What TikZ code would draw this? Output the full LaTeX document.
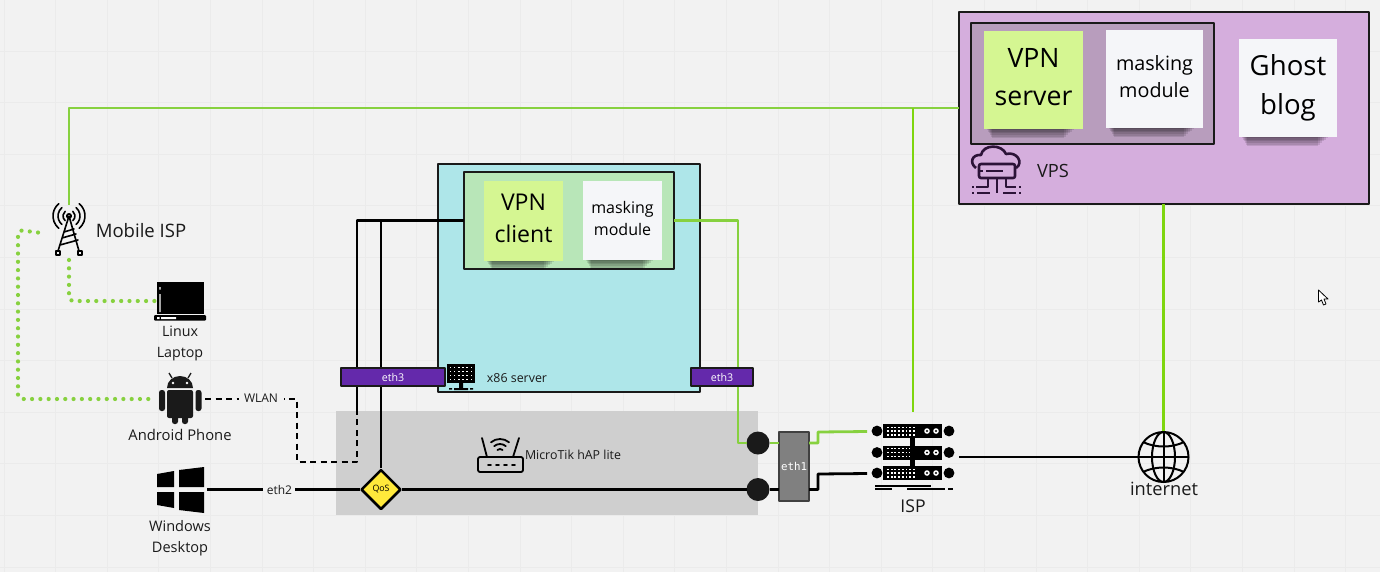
\documentclass[tikz,border=0pt]{standalone}
\usepackage{fontspec}
\setmainfont{Open Sans}
\newfontfamily\ethfont{DejaVu Sans Mono}
\usetikzlibrary{shapes.geometric}
\definecolor{bgcol}{HTML}{F2F2F2}
\definecolor{gridcol}{HTML}{EBEBEB}
\definecolor{vpscol}{HTML}{D5AEDD}
\definecolor{vpsin}{HTML}{B89DBD}
\definecolor{servcol}{HTML}{AEE6E9}
\definecolor{servin}{HTML}{B8E6B8}
\definecolor{stickgreen}{HTML}{D5F692}
\definecolor{stickwhite}{HTML}{F5F6F9}
\definecolor{ethcol}{HTML}{6429AB}
\definecolor{hapcol}{HTML}{CFCFCF}
\definecolor{linkgreen}{HTML}{87D13F}
\definecolor{linkbright}{HTML}{7FD60F}
\definecolor{qoscol}{HTML}{FFE93B}
\definecolor{inkcol}{HTML}{1A1A1A}
\definecolor{vpsink}{HTML}{2C1338}
\def\u{0.75pt}
\newcommand{\fsz}[2]{\fontsize{#1}{#2}\selectfont}
\newcommand{\stickshadow}[3]{\foreach \i in {1,...,6} \fill[black,opacity=.11] (#1+\i,#3) rectangle (#2-\i*2,#3+1.6*\i-0.5);}
\tikzset{
  plate/.style={draw=inkcol,line width=1.5*\u,inner sep=0pt,outer sep=0pt},
  stick/.style={inner sep=0pt,outer sep=0pt},
  eth/.style={plate,fill=ethcol,text=white,font=\fsz{8}{10},minimum height=18*\u},
  lbl/.style={inner sep=0pt,align=center,text=inkcol},
  icon/.style={inner sep=0pt,outer sep=0pt},
  wire/.style={line width=2.8*\u,black},
  wlan/.style={line width=1.9*\u,black,dash pattern=on 6*\u off 4.5*\u},
  greenwire/.style={line width=2.8*\u,linkgreen},
  brightwire/.style={line width=2.8*\u,linkbright},
  dotwire/.style={line width=4.2*\u,linkgreen,line cap=round,dash pattern=on 0pt off 8.3*\u,rounded corners=4*\u},
  port/.style={circle,fill=inkcol,inner sep=0pt,outer sep=0pt,minimum size=23*\u}
}
\begin{document}
\begin{tikzpicture}[x=0.75pt,y=-0.75pt,line join=round]
\useasboundingbox (0,0) rectangle (1380,572);
\fill[bgcol] (0,0) rectangle (1380,572);
\foreach \x in {0,...,26} \draw[gridcol,line width=\u] (4+51.6*\x,0)--(4+51.6*\x,572);
\foreach \y in {0,...,10} \draw[gridcol,line width=\u] (0,51+51.6*\y)--(1380,51+51.6*\y);
% boxes
\node[icon,fill=hapcol,minimum width=422*\u,minimum height=104*\u] (hap) at (547,462.5) {};
\node[plate,fill=servcol,minimum width=262*\u,minimum height=228*\u] (x86) at (569,278) {};
\node[plate,fill=servin,minimum width=210*\u,minimum height=97*\u] (x86in) at (569,220.5) {};
\node[plate,fill=vpscol,minimum width=410*\u,minimum height=192*\u] (vps) at (1164,108) {};
\node[plate,fill=vpsin,minimum width=243*\u,minimum height=121*\u] (vpsin) at (1092.5,83.5) {};
% sticky notes
\stickshadow{486}{556}{261}
\stickshadow{585}{655}{260}
\stickshadow{986}{1076}{129}
\stickshadow{1108}{1196}{128}
\stickshadow{1241}{1330}{137}
\node[stick,fill=stickgreen,minimum width=79*\u,minimum height=80*\u] (vpnclient) at (523.5,221) {};
\node[stick,fill=stickwhite,minimum width=79*\u,minimum height=79*\u] (maskclient) at (622.5,220.5) {};
\node[stick,fill=stickgreen,minimum width=99*\u,minimum height=98*\u] (vpnserver) at (1033.5,80) {};
\node[stick,fill=stickwhite,minimum width=97*\u,minimum height=98*\u] (maskserver) at (1154.5,79) {};
\node[stick,fill=stickwhite,minimum width=98*\u,minimum height=98*\u] (ghost) at (1288,88) {};
\node[lbl,text=black,font=\fsz{17.3}{23.6}] (vpnclientlbl) at (523.5,218.5) {VPN\\client};
\node[lbl,text=black,font=\fsz{12}{15.8}] (maskclientlbl) at (622.5,218.5) {masking\\module};
\node[lbl,text=black,font=\fsz{20}{28}] (vpnserverlbl) at (1033.5,77) {VPN\\server};
\node[lbl,text=black,font=\fsz{14.8}{20.2}] (maskserverlbl) at (1154.5,77) {masking\\module};
\node[lbl,text=black,font=\fsz{20.7}{29}] (ghostlbl) at (1288,87.5) {Ghost\\blog};
% icon anchors
\node[icon,minimum width=62*\u,minimum height=55*\u] (tower) at (69,232.5) {};
\node[icon,minimum width=50*\u,minimum height=40*\u] (laptop) at (180,301) {};
\node[icon,minimum width=50*\u,minimum height=50*\u] (android) at (180,399) {};
\node[icon,minimum width=54*\u,minimum height=46*\u] (windows) at (180,489.5) {};
\node[icon,minimum width=92*\u,minimum height=82*\u] (rack) at (913,453) {};
\node[icon,circle,minimum size=51*\u] (globe) at (1163.5,457) {};
\coordinate (racktop) at (913,431.5);
\coordinate (rackbot) at (913,473.5);
\coordinate (wlanturn) at (297,399);
\coordinate (wlandown) at (297,462);
\coordinate (wlanin) at (357,462);
\coordinate (wlanup) at (357,410);
\coordinate (mobilebend) at (18,230);
% links
\node[port] (porta) at (758,443) {};
\node[port] (portb) at (758,489.5) {};
\node[plate,fill=black!50,draw=black!75,text=white,font=\ethfont\fsz{8.1}{10},minimum width=30*\u,minimum height=69*\u] (eth1) at (794,466.5) {eth1};
\draw[greenwire] (vps.west)--(vps.west -| tower.north)--(tower.north);
\draw[brightwire] (vps.west -| rack.north)--(rack.north);
\draw[brightwire] (vps.south -| globe.north)--(globe.north);
\draw[dotwire] (tower.south)--(tower.south |- laptop.west)--(laptop.west);
\draw[dotwire] (tower.west)--(mobilebend)--(mobilebend |- android.west)--(android.west);
\draw[wlan] (android.east)--(wlanturn)--(wlandown)--(wlanin)--(wlanup);
\draw[wire] (wlanup)--(x86in.west -| wlanup)--(x86in.west);
\draw[greenwire] (x86in.east)--(738,220.5)--(738,443)--(porta);
\draw[greenwire] (porta)--(eth1.west |- porta);
\draw[greenwire] (eth1.east |- porta)--++(9,0)--(818,432)--(rack.west |- racktop);
\draw[wire] (eth1.east |- portb)--++(9,0)--(818,474)--(rack.west |- rackbot);
\draw[wire] (portb)--(eth1.west |- portb);
\draw[wire] (globe.west)--(globe.west -| rack.east);
\node[diamond,aspect=1,draw=black,line width=2.5*\u,fill=qoscol,inner sep=0pt,minimum size=40*\u,font=\fsz{6.6}{8}] (qos) at (381,489.5) {QoS};
\draw[wire] (qos.north)--(x86in.west -| qos.north);
\draw[wire] (qos.east)--(portb);
\draw[wire] (windows.east)--(qos.west) node[pos=.474,fill=bgcol,lbl,font=\fsz{9}{11},minimum width=32*\u,minimum height=12*\u] (eth2) {eth2};
\node[lbl,fill=bgcol,font=\fsz{9}{11},minimum width=45*\u,minimum height=13*\u] (wlanlbl) at (261,398.5) {WLAN};
\node[eth,minimum width=104*\u] (ethl) at (393,377) {eth3};
\node[eth,minimum width=62*\u] (ethr) at (722,377) {eth3};
% texts
\node[lbl,font=\fsz{13.9}{16}] (mobilelbl) at (141,231) {Mobile ISP};
\node[lbl,font=\fsz{10.7}{15.75}] (laptoplbl) at (180,343) {Linux\\Laptop};
\node[lbl,font=\fsz{11.1}{14}] (androidlbl) at (180,435) {Android Phone};
\node[lbl,font=\fsz{10.9}{15.75}] (windowslbl) at (180,538) {Windows\\Desktop};
\node[lbl,font=\fsz{9.3}{11}] (x86lbl) at (517,378) {x86 server};
\node[lbl,font=\fsz{13.7}{16}] (vpslbl) at (1053,171) {VPS};
\node[lbl,font=\fsz{9.3}{11}] (haplbl) at (573,454.5) {MicroTik hAP lite};
\node[lbl,font=\fsz{13.2}{16}] (isplbl) at (913,506) {ISP};
\node[lbl,font=\fsz{13.7}{16}] (globelbl) at (1164,489) {internet};
% tower
\begin{scope}[black,line width=1.6*\u,line cap=round]
\draw (69,216)--(58,251) (69,216)--(79,251) (64,232)--(74,229) (62,238)--(76,234) (60,245)--(78,240);
\draw (69,216) circle (2.2);
\foreach \r/\a in {6/50,11/50,16/50} {
  \draw ({69+\r*cos(\a)},{216+\r*sin(\a)}) arc (\a:-\a:\r);
  \draw ({69-\r*cos(\a)},{216+\r*sin(\a)}) arc (180-\a:180+\a:\r);
}
\draw (56,251) rectangle (60,255) (78,251) rectangle (82,255);
\end{scope}
% laptop
\fill[black] (157,282) rectangle (204,314);
\fill[black,rounded corners=1*\u] (154,315) rectangle (206,320.5);
\fill[white] (159.3,294) rectangle (160.6,312) (159.3,287) rectangle (160.6,289.5) (157,317) rectangle (159.5,319) (161,317) rectangle (176,319);
% android
\fill[inkcol] (167,388) .. controls (167,381) and (173,376) .. (180,376) .. controls (187,376) and (193,381) .. (193,388)--cycle;
\draw[inkcol,line width=1.3*\u] (172,378)--(169,373) (188,378)--(191,373);
\fill[white] (173,383) circle (1.4) (187,383) circle (1.4);
\fill[inkcol,rounded corners=2*\u] (167,390) rectangle (193,418);
\fill[inkcol,rounded corners=2.5*\u] (172,412) rectangle (178,424) (182,412) rectangle (188,424);
\fill[inkcol,rounded corners=2.5*\u] (159,390) rectangle (165,411) (195.5,390) rectangle (201.5,411);
% windows
\fill[black] (157,474)--(174,471)--(174,487)--(157,487)--cycle;
\fill[black] (179,470)--(204,467)--(204,487)--(179,487)--cycle;
\fill[black] (157,492)--(174,492)--(174,508)--(157,505)--cycle;
\fill[black] (179,492)--(204,492)--(204,513)--(179,510)--cycle;
% monitor
\fill[black] (447,364) rectangle (475,383);
\foreach \x in {0,...,5} \foreach \y in {0,...,3} \fill[white] (449.5+4.2*\x,366.5+4*\y) rectangle ++(1.6,1.6);
\fill[black] (459,383) rectangle (463,388) (454,388) rectangle (468,390);
\fill[black] (449,388) rectangle (452,389.5) (470,388) rectangle (473,389.5);
% router
\begin{scope}[black,line width=1.8*\u,line cap=round]
\draw[rounded corners=2*\u] (478,457) rectangle (523,472);
\draw (487,457)--(482,438) (513,457)--(519,438);
\foreach \r in {4,9,14} \draw ({500+\r*cos(50)},{453-\r*sin(50)}) arc (-50:-130:\r);
\foreach \x in {488,496,504,512} \draw (\x,465)--(\x+3,465);
\end{scope}
% rack
\foreach \y in {431,452.5,473} {
  \fill[black] (883,\y-7) rectangle (942,\y+7);
  \fill[black] (877,\y) circle (5.4) (949,\y) circle (5.4);
  \foreach \x in {0,...,7} \foreach \r in {-1,0,1} \fill[white] (887+3.7*\x,\y+3.8*\r-0.6) rectangle ++(1.8,1.3);
  \fill[white] (927,\y) circle (2.8) (936,\y) circle (2.8);
  \fill[black] (927,\y) circle (1.1) (936,\y) circle (1.1);
}
\fill[black] (910,438) rectangle (915,467);
\draw[black,line width=1.2*\u] (875,486)--(931,486) (875,489)--(892,489) (907,489)--(945,489) (948,489)--(953,489);
% globe
\begin{scope}[black,line width=2*\u]
\draw (1163.5,457) circle (25);
\draw (1163.5,457) ellipse (11.5 and 25);
\draw (1163.5,432)--(1163.5,482) (1138.5,457)--(1188.5,457);
\draw (1143,442) .. controls (1155,448) and (1172,448) .. (1184,442);
\draw (1143,472) .. controls (1155,466) and (1172,466) .. (1184,472);
\end{scope}
% cloud server
\begin{scope}[vpsink,line width=2.6*\u]
\draw (976,168) .. controls (969,163) and (972,154) .. (981,155) .. controls (983,144) and (1002,144) .. (1006,154) .. controls (1017,151) and (1024,163) .. (1016,168);
\draw[rounded corners=2*\u] (979,164) rectangle (1015,178);
\draw (986,171)--(1003,171) (980,171)--(983,171);
\draw (997,178)--(997,193) (988,178)--(988,187)--(976,187) (1006,178)--(1006,187)--(1016,187);
\draw (972,187)--(974,187) (972,193)--(974,193) (977,193)--(990,193) (1003,193)--(1016,193) (1019,187)--(1021,187) (1019,193)--(1021,193);
\end{scope}
% pointer
\draw[black,fill=white,line width=0.8*\u] (1318.5,290)--(1318.5,302)--(1321.5,300)--(1323.5,305)--(1326,304)--(1324,299)--(1328,299)--cycle;
\end{tikzpicture}
\end{document}
